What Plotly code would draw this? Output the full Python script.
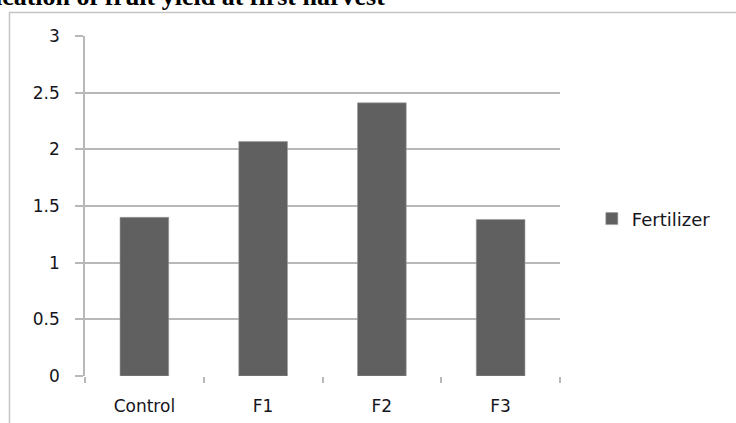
import plotly.graph_objects as go

# Fruit yield at first harvest by treatment
treatments = ["Control", "F1", "F2", "F3"]
fertilizer = [1.40, 2.07, 2.41, 1.38]
y_ticks = [0, 0.5, 1, 1.5, 2, 2.5, 3]
y_tick_labels = ["0", "0.5", "1", "1.5", "2", "2.5", "3"]

fig = go.Figure()
fig.add_trace(go.Bar(
    x=treatments,
    y=fertilizer,
    name="Fertilizer",
    marker=dict(color="#606060", line=dict(color="#9a9a9a", width=0.6)),
    showlegend=True,
))

label_font = dict(family="DejaVu Sans, Verdana, sans-serif", size=17, color="#151520")
grid = "#b8b8b8"

fig.update_layout(
    width=736,
    height=423,
    margin=dict(l=85, r=176, t=36, b=47, autoexpand=False),
    paper_bgcolor="white",
    plot_bgcolor="white",
    bargap=0.59,
    font=label_font,
    showlegend=True,
    legend=dict(
        x=1.067, y=0.462, xanchor="left", yanchor="middle",
        font=dict(family="DejaVu Sans, Verdana, sans-serif", size=18, color="#151520"),
        itemwidth=30, bgcolor="rgba(0,0,0,0)",
    ),
    xaxis=dict(
        type="category",
        automargin=False,
        showgrid=False,
        showline=False,
        ticks="outside", ticklen=6, tickcolor=grid, tickwidth=1.5,
        tickson="boundaries",
        ticklabelstandoff=18,
        tickfont=label_font,
        zeroline=False,
    ),
    yaxis=dict(
        range=[0, 3],
        automargin=False,
        tickvals=y_ticks,
        ticktext=y_tick_labels,
        showgrid=True, gridcolor=grid, gridwidth=1.5,
        showline=True, linecolor=grid, linewidth=1.5,
        ticks="outside", ticklen=8, tickcolor=grid, tickwidth=1.5,
        ticklabelstandoff=12,
        tickfont=label_font,
        zeroline=False,
    ),
)

# Outer chart frame
fig.add_shape(
    type="rect", xref="paper", yref="paper",
    x0=-0.159, x1=1.6, y0=-0.5, y1=1.069,
    line=dict(color="#c4c4c4", width=1.5), fillcolor="rgba(0,0,0,0)",
    layer="below",
)

# Caption above the chart frame
fig.add_annotation(
    xref="paper", yref="paper",
    x=(387 - 85) / 475, y=(376 + 3) / 340,
    xanchor="right", yanchor="middle",
    text="<b>Application of fruit yield at first harvest</b>",
    showarrow=False,
    font=dict(family="Liberation Serif, Times New Roman, serif", size=26, color="#000000"),
)

fig.write_html("out.html")
